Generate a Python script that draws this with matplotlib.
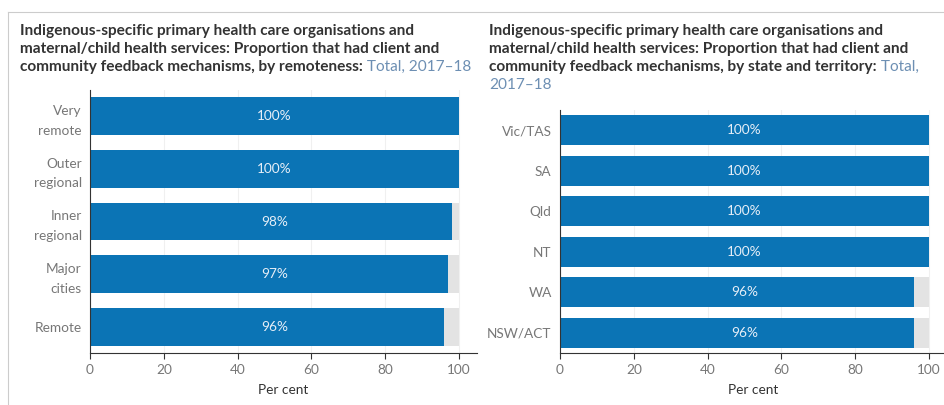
import matplotlib.pyplot as plt
from matplotlib.lines import Line2D

# datos
remoteness = ["Very\nremote", "Outer\nregional", "Inner\nregional", "Major\ncities", "Remote"]
remoteness_pct = [100, 100, 98, 97, 96]

states = ["Vic/TAS", "SA", "Qld", "NT", "WA", "NSW/ACT"]
states_pct = [100, 100, 100, 100, 96, 96]

title_lines = [
    "Indigenous-specific primary health care organisations and",
    "maternal/child health services: Proportion that had client and",
]
left_last = "community feedback mechanisms, by remoteness:"
right_last = "community feedback mechanisms, by state and territory:"

BLUE = "#0b74b5"
BACK = "#e3e3e3"
DARK = "#333333"
GREY = "#777777"
LIGHTBLUE = "#6d8fb3"

plt.rcParams["font.family"] = ["Lato", "DejaVu Sans"]

W, H = 945, 405
fig = plt.figure(figsize=(W / 100, H / 100), dpi=100)


def px_axes(x0, y_top, x1, y_bot):
    return fig.add_axes([x0 / W, 1 - y_bot / H, (x1 - x0) / W, (y_bot - y_top) / H])


def draw_title(x, y_top, last_bold, blue_tail, extra_line=None):
    fs = 11.1
    step = 18
    for i, line in enumerate(title_lines + [last_bold]):
        t = fig.text(x / W, 1 - (y_top + i * step) / H, line, fontsize=fs,
                     fontweight="bold", color=DARK, va="top", ha="left")
    # la parte azul sigue al final de la ultima linea en negrita
    plt.annotate(blue_tail, xy=(1, 0), xycoords=t, va="bottom", ha="left",
                 fontsize=fs, color=LIGHTBLUE, annotation_clip=False)
    if extra_line:
        fig.text(x / W, 1 - (y_top + 3 * step) / H, extra_line, fontsize=fs,
                 color=LIGHTBLUE, va="top", ha="left")


def draw_panel(ax, cats, vals, height):
    n = len(cats)
    pos = list(range(n))[::-1]
    ax.barh(pos, [100] * n, height=height, color=BACK, zorder=1)
    ax.barh(pos, vals, height=height, color=BLUE, zorder=2)
    for p, v in zip(pos, vals):
        ax.text(50, p, f"{v}%", ha="center", va="center", color="#e6eef7",
                fontsize=9.8, zorder=3)
    ax.set_xlim(0, 104.9)
    ax.set_ylim(-0.5, n - 0.5)
    ax.set_yticks(pos)
    ax.set_yticklabels(cats, fontsize=9.8, color=GREY, linespacing=1.75)
    ax.set_xticks([0, 20, 40, 60, 80, 100])
    ax.tick_params(axis="x", labelsize=9.8, labelcolor=GREY, length=4,
                   color=DARK, pad=4)
    ax.tick_params(axis="y", length=0, pad=6)
    ax.xaxis.grid(True, color="#f0f0f0", linewidth=0.8, zorder=0)
    ax.set_axisbelow(True)
    for s in ["top", "right"]:
        ax.spines[s].set_visible(False)
    ax.spines["left"].set_color(DARK)
    ax.spines["bottom"].set_color(DARK)
    ax.set_xlabel("Per cent", fontsize=9.8, color=DARK, labelpad=6)


ax1 = px_axes(90, 90, 477, 353)
draw_panel(ax1, remoteness, remoteness_pct, 0.72)

ax2 = px_axes(560, 110, 947, 353)
draw_panel(ax2, states, states_pct, 0.74)

draw_title(20, 24, left_last, " Total, 2017\u201318")
draw_title(489, 24, right_last, " Total,", extra_line="2017\u201318")

# marco del panel
fig.add_artist(Line2D([8 / W, 1], [1 - 12 / H, 1 - 12 / H], color="#cccccc", lw=0.8))
fig.add_artist(Line2D([8 / W, 8 / W], [0, 1 - 12 / H], color="#cccccc", lw=0.8))

fig.savefig("out.png", dpi=100)
